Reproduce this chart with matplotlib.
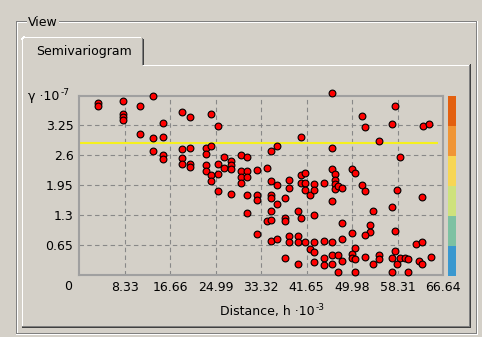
import matplotlib
matplotlib.use("Agg")
import matplotlib.pyplot as plt
from matplotlib.lines import Line2D

# semivariogram cloud, distance (x 10^-3) vs gamma (x 10^-7)
dist = [3.40, 3.40, 8.09, 13.57, 11.14, 8.09, 8.09, 8.09, 15.40, 11.14, 13.57, 15.40, 13.57, 15.40, 15.40,
        18.93, 20.28, 24.17, 25.45, 18.93, 20.28, 23.20, 24.17, 23.20, 18.93, 18.93, 20.28, 20.28, 23.20,
        23.20, 24.17, 24.17, 25.45, 25.45, 26.54, 26.54, 27.82, 27.82, 27.82, 25.45, 27.82, 29.65, 30.75,
        29.65, 29.65, 29.65, 30.75, 30.75, 32.52, 30.75, 32.52, 32.52, 30.75, 32.52, 34.34, 34.34,
        46.33, 40.61, 36.23, 35.13, 46.33, 35.13, 36.23, 38.47, 38.47, 40.61, 41.40, 40.61, 41.40, 41.40,
        42.20, 42.98, 42.98, 44.81, 46.33, 46.82, 46.82, 46.82, 46.82, 47.42, 48.15, 46.33, 49.98, 35.13,
        35.13, 36.23, 37.74, 35.13, 35.13, 37.74, 37.74, 40.01, 40.61, 42.98, 48.15, 49.98, 35.13, 36.23,
        38.47, 38.47, 40.01, 40.01, 41.40, 42.20, 42.98, 42.98, 44.81, 46.33, 48.15, 37.74, 40.01, 42.98,
        44.81, 44.81, 46.33, 46.33, 47.42, 48.15, 47.42,
        57.78, 51.81, 52.30, 57.23, 62.95, 63.99, 54.91, 58.82, 50.53, 51.81, 52.30, 58.27, 62.71, 57.23,
        53.82, 53.34, 53.34, 52.30, 57.78, 61.62, 62.71, 50.47, 57.78, 50.05, 50.05, 50.53, 52.30, 54.91,
        54.91, 53.82, 57.23, 58.27, 58.82, 59.61, 60.21, 62.17, 62.71, 64.49, 50.47, 57.23, 60.21]
gamma = [3.72, 3.66, 3.76, 3.88, 3.67, 3.49, 3.42, 3.36, 3.30, 3.06, 2.96, 2.99, 2.69, 2.59, 2.52,
         3.53, 3.42, 3.48, 3.23, 2.73, 2.75, 2.75, 2.80, 2.62, 2.54, 2.41, 2.40, 2.34, 2.38,
         2.26, 2.16, 2.04, 2.41, 2.18, 2.56, 2.32, 2.48, 2.39, 2.30, 1.82, 1.76, 2.59, 2.56,
         2.25, 2.13, 2.00, 2.25, 2.13, 2.28, 1.73, 1.73, 1.63, 1.35, 0.89, 2.32, 1.17,
         3.95, 2.99, 2.80, 2.68, 2.75, 2.04, 1.94, 2.06, 1.89, 2.16, 2.22, 1.99, 1.99, 1.85,
         1.73, 1.97, 1.85, 2.00, 2.29, 2.18, 2.06, 1.97, 1.87, 1.93, 1.89, 1.60, 2.29, 1.74,
         1.67, 1.54, 1.67, 1.39, 1.19, 1.23, 1.17, 1.39, 1.24, 1.30, 1.12, 0.92, 0.74, 0.77,
         0.84, 0.72, 0.84, 0.72, 0.72, 0.56, 0.72, 0.50, 0.74, 0.72, 0.77, 0.37, 0.24, 0.28,
         0.37, 0.21, 0.43, 0.24, 0.43, 0.31, 0.07,
         3.67, 3.45, 3.21, 3.27, 3.23, 3.27, 2.90, 2.56, 2.22, 1.94, 1.82, 1.85, 1.70, 1.48,
         1.39, 1.08, 0.93, 0.87, 0.95, 0.68, 0.71, 0.59, 0.53, 0.46, 0.37, 0.34, 0.40, 0.43,
         0.34, 0.24, 0.37, 0.24, 0.37, 0.37, 0.34, 0.31, 0.24, 0.40, 0.07, 0.07, 0.07]

sill = 2.86
sill_end = 65.8
xticks = [8.33, 16.66, 24.99, 33.32, 41.65, 49.98, 58.31, 66.64]
xlabels = ["8.33", "16.66", "24.99", "33.32", "41.65", "49.98", "58.31", "66.64"]
yticks = [0.65, 1.3, 1.95, 2.6, 3.25]
ylabels = ["0.65", "1.3", "1.95", "2.6", "3.25"]
legend_colors = ["#3A98CF", "#7DC1A2", "#CEE27C", "#F7D654", "#F09535", "#E3600F"]

bg = "#D4D0C8"
W, H = 482, 337

fig = plt.figure(figsize=(4.82, 3.37), dpi=100, facecolor=bg)


def line(x0, y0, x1, y1, c):
    fig.add_artist(Line2D([x0 / W, x1 / W], [1 - y0 / H, 1 - y1 / H], transform=fig.transFigure,
                          color=c, lw=0.72, antialiased=False))


# group box "View"
line(16, 21, 476, 21, "#808080")
line(17, 22, 475, 22, "#FFFFFF")
line(16, 21, 16, 333, "#808080")
line(17, 22, 17, 332, "#FFFFFF")
line(16, 333, 476, 333, "#808080")
line(16, 334, 477, 334, "#FFFFFF")
line(476, 21, 476, 333, "#808080")
line(477, 21, 477, 334, "#FFFFFF")
fig.text(28 / W, 1 - 22 / H, "View", ha="left", va="center", fontsize=9,
         bbox=dict(fc=bg, ec="none", pad=1))

# tab page
line(22, 65, 22, 327, "#FFFFFF")
line(143, 65, 470, 65, "#FFFFFF")
line(469, 65, 469, 326, "#808080")
line(470, 64, 470, 327, "#404040")
line(22, 326, 469, 326, "#808080")
line(22, 327, 470, 327, "#404040")
line(22, 65, 22, 39, "#FFFFFF")
line(22, 39, 24, 37, "#FFFFFF")
line(24, 37, 140, 37, "#FFFFFF")
line(142, 38, 142, 64, "#808080")
line(143, 39, 143, 64, "#404040")
fig.text(84 / W, 1 - 52 / H, "Semivariogram", ha="center", va="center", fontsize=9)

# plot
ax = fig.add_axes([79 / W, 1 - 275 / H, 364 / W, 179 / H])
ax.set_facecolor(bg)
ax.set_xlim(0, 66.64)
ax.set_ylim(0, 3.878)
for s in ax.spines.values():
    s.set_color("#A0A0A0")
    s.set_linewidth(1.5)
ax.set_xticks(xticks)
ax.set_xticklabels(xlabels)
ax.set_yticks(yticks)
ax.set_yticklabels(ylabels)
ax.tick_params(length=0, labelsize=9, colors="black")
ax.tick_params(axis="x", pad=4)
ax.tick_params(axis="y", pad=4)
ax.grid(True, color="#888888", linestyle=(0, (4, 3)), linewidth=0.8)
ax.set_axisbelow(True)

ax.hlines(sill, 0, sill_end, color="#F5F01E", linewidth=1.5, zorder=2)
ax.scatter(dist, gamma, s=24, c="#FF0000", edgecolors="black", linewidths=0.8, zorder=3, clip_on=False)

fig.text(68 / W, 1 - 286 / H, "0", ha="center", va="center", fontsize=9)
t = fig.text(220 / W, 1 - 311 / H, "Distance, h \u00b710", ha="left", va="center", fontsize=9)
ax.annotate("-3", xy=(1, 1), xycoords=t, xytext=(1, -2), textcoords="offset points", fontsize=6.5,
            ha="left", va="center")
t2 = fig.text(28 / W, 1 - 96 / H, "\u03b3 \u00b710", ha="left", va="center", fontsize=9)
ax.annotate("-7", xy=(1, 1), xycoords=t2, xytext=(1, -2), textcoords="offset points", fontsize=6.5,
            ha="left", va="center")

# colour legend strip
cax = fig.add_axes([448 / W, 1 - 276 / H, 8 / W, 180 / H])
cax.bar([0] * len(legend_colors), [1] * len(legend_colors), bottom=range(len(legend_colors)),
        color=legend_colors, width=1)
cax.set_xlim(-0.5, 0.5)
cax.set_ylim(0, len(legend_colors))
cax.axis("off")

fig.savefig("out.png", dpi=100, facecolor=bg)
